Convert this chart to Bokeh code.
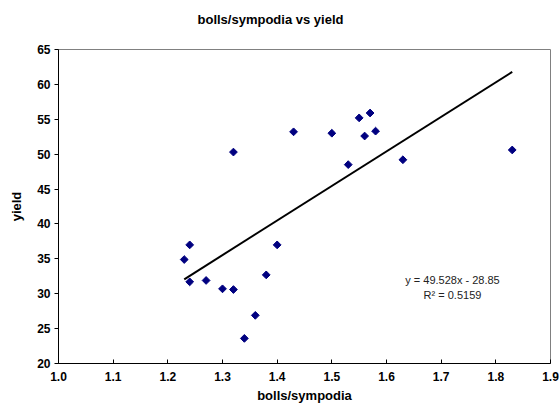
import math
from bokeh.plotting import figure
from bokeh.models import Label, Range1d, FixedTicker, ColumnDataSource, Title
from bokeh.embed import file_html
from bokeh.resources import INLINE

bolls_sympodia = [1.23, 1.24, 1.24, 1.27, 1.30, 1.32, 1.32, 1.36, 1.34, 1.38,
                  1.40, 1.43, 1.50, 1.53, 1.55, 1.56, 1.57, 1.58, 1.63, 1.83]
yield_vals = [34.9, 37.0, 31.7, 31.9, 30.7, 30.6, 50.3, 26.9, 23.6, 32.7,
              37.0, 53.2, 53.0, 48.5, 55.2, 52.6, 55.9, 53.3, 49.2, 50.6]
slope = 49.528
intercept = -28.85
r_squared = 0.5159
x_ticks = [1.0, 1.1, 1.2, 1.3, 1.4, 1.5, 1.6, 1.7, 1.8, 1.9]
y_ticks = [20, 25, 30, 35, 40, 45, 50, 55, 60, 65]

FONT = "Liberation Sans"

p = figure(width=560, height=406, output_backend="svg", toolbar_location=None,
           x_range=Range1d(1.0, 1.9), y_range=Range1d(20, 65),
           min_border_left=58, min_border_right=10, min_border_top=49,
           min_border_bottom=43)
p.title = Title(text="bolls/sympodia  vs yield", align="left",
                text_font=FONT, text_font_style="bold",
                text_font_size="13px", text_color="black",
                standoff=0, offset=139)
# spacer panel between the title and the frame
p.add_layout(Title(text=" ", text_font_size="19px", standoff=0), "above")
p.grid.visible = False
p.outline_line_color = "#808080"
p.outline_line_width = 1
p.background_fill_color = "white"
p.border_fill_color = "white"

# trend line
tx = [min(bolls_sympodia), max(bolls_sympodia)]
ty = [slope * v + intercept for v in tx]
p.line(tx, ty, line_color="black", line_width=2)

src = ColumnDataSource(dict(x=bolls_sympodia, y=yield_vals))
p.scatter("x", "y", source=src, marker="square", size=5.5, angle=math.pi / 4,
          fill_color="#000080", line_color="#000080")

for ax in (p.xaxis[0], p.yaxis[0]):
    ax.major_label_text_font = FONT
    ax.major_label_text_font_style = "bold"
    ax.major_label_text_font_size = "12px"
    ax.major_label_text_color = "black"
    ax.axis_label_text_font = FONT
    ax.axis_label_text_font_style = "bold"
    ax.axis_label_text_font_size = "13px"
    ax.axis_label_text_color = "black"
    ax.axis_line_color = "black"
    ax.axis_line_width = 1
    ax.major_tick_line_color = "black"
    ax.minor_tick_line_color = None

p.xaxis.ticker = FixedTicker(ticks=x_ticks)
p.yaxis.ticker = FixedTicker(ticks=y_ticks)
p.xaxis.major_label_overrides = {t: f"{t:.1f}" for t in x_ticks}
p.xaxis.major_tick_in = 4
p.xaxis.major_tick_out = 0
p.xaxis.major_label_standoff = 8
p.xaxis.axis_label = "bolls/sympodia"
p.xaxis.axis_label_standoff = 4
p.yaxis.major_tick_in = 0
p.yaxis.major_tick_out = 4
p.yaxis.major_label_standoff = 4
p.yaxis.axis_label = "yield"
p.yaxis.axis_label_standoff = 10

# screen units here are relative to the plot frame (bottom-left origin)
p.add_layout(Label(x=394, y=84, x_units="screen", y_units="screen",
                   text=f"y = {slope}x - {abs(intercept)}", text_font=FONT,
                   text_font_size="11px", text_align="center",
                   text_baseline="middle", text_color="#222222"))
p.add_layout(Label(x=394, y=69, x_units="screen", y_units="screen",
                   text=f"R² = {r_squared}", text_font=FONT,
                   text_font_size="11px", text_align="center",
                   text_baseline="middle", text_color="#222222"))

open("out.html", "w").write(file_html(p, INLINE))
